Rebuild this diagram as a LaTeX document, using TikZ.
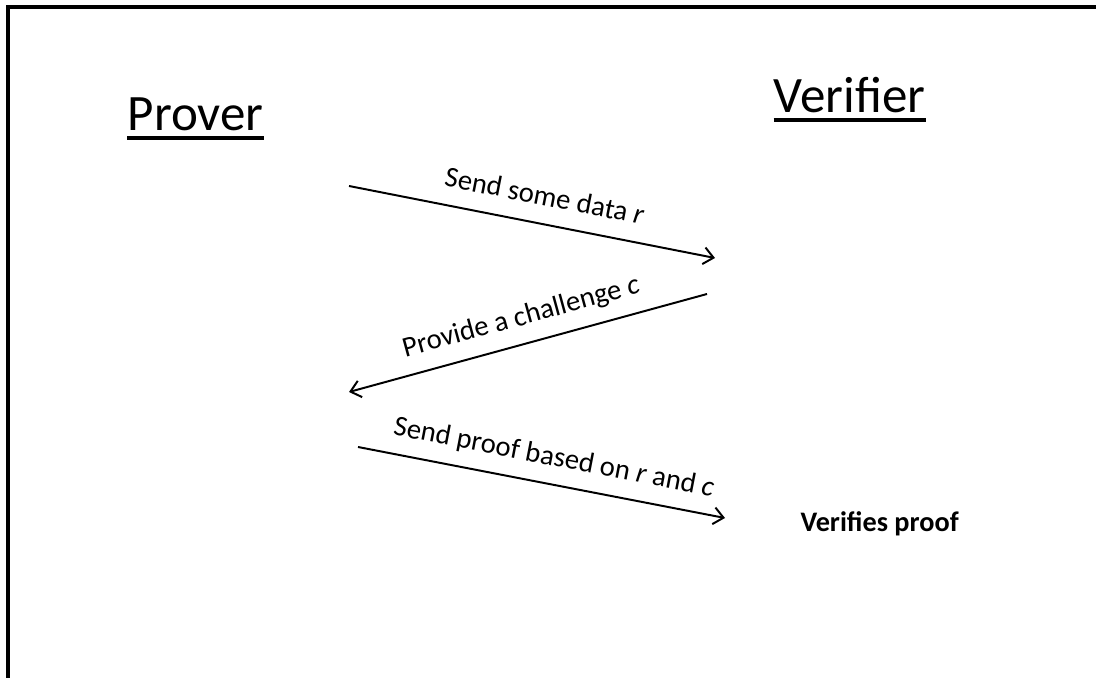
\documentclass[tikz,border=0pt]{standalone}
\usepackage{fontspec}
\setmainfont{Carlito}
\usetikzlibrary{arrows.meta}

\begin{document}
\begin{tikzpicture}[
  party/.style={anchor=base, inner sep=0pt, font=\fontsize{36.3}{40}\selectfont},
  msg/.style={line width=1.4pt, -{Straight Barb[length=7pt,width=12pt,line width=1.4pt]}},
  lbl/.style={sloped, above=12.5pt, inner sep=0pt, text depth=0pt, font=\fontsize{20.4}{24}\selectfont}
]
\useasboundingbox (0,0) rectangle (27.4,16.95);

% frame, only top and left edge
\draw [line width=2.2pt](0.2,0) -- (0.2,16.775) -- (27.4,16.775);

% the two parties
\node (prover) at (4.89,13.675)[party]{Prover};
\draw [line width=2.4pt]([yshift=-5pt]prover.base west) -- ([yshift=-5pt]prover.base east);

\node (verifier) at (21.24,14.125)[party]{Verifier};
\draw [line width=2.4pt]([yshift=-5pt]verifier.base west) -- ([yshift=-5pt]verifier.base east);

% messages
\coordinate (r1) at (8.725,12.3);
\coordinate (r2) at (17.875,10.5);
\draw[msg](r1) -- (r2) node[lbl, pos=0.52] (lr){Send some data \textit{r}};

\coordinate (c1) at (17.675,9.6);
\coordinate (c2) at (8.725,7.15);
\draw[msg](c1) -- (c2) node[lbl, pos=0.5] (lc){Provide a challenge \textit{c}};

\coordinate (p1) at (8.95,5.775);
\coordinate (p2) at (18.125,4.0);
\draw[msg](p1) -- (p2) node[lbl, pos=0.52] (lp){Send proof based on \textit{r} and \textit{c}};

\node (check) at (21.99,3.65)[anchor=base, inner sep=0pt, font=\bfseries\fontsize{20.1}{24}\selectfont]{Verifies proof};

\end{tikzpicture}
\end{document}
